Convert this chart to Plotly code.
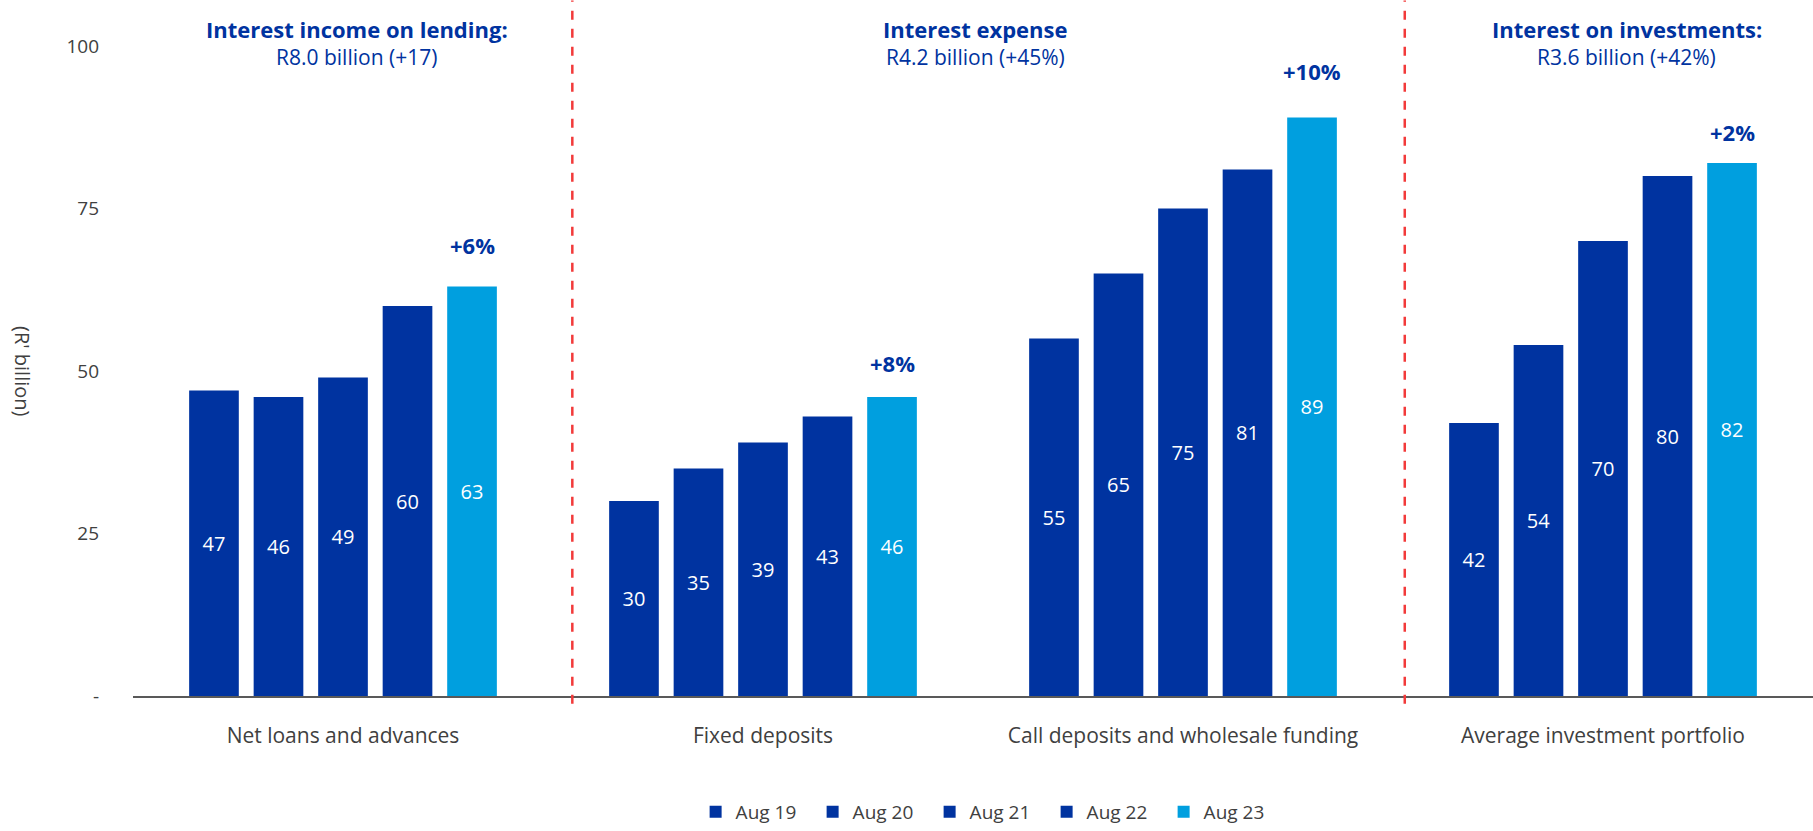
import plotly.graph_objects as go

# Balance categories on the x-axis
categories = [
    "Net loans and advances",
    "Fixed deposits",
    "Call deposits and wholesale funding",
    "Average investment portfolio",
]

# Year-end balances (R' billion) per period
periods = ["Aug 19", "Aug 20", "Aug 21", "Aug 22", "Aug 23"]
aug19 = [47, 30, 55, 42]
aug20 = [46, 35, 65, 54]
aug21 = [49, 39, 75, 70]
aug22 = [60, 43, 81, 80]
aug23 = [63, 46, 89, 82]

# Year-on-year growth shown above the latest bar
growth_labels = ["+6%", "+8%", "+10%", "+2%"]

# Section headers
header_titles = ["Interest income on lending:", "Interest expense", "Interest on investments:"]
header_values = ["R8.0 billion (+17)", "R4.2 billion (+45%)", "R3.6 billion (+42%)"]

y_ticks = [0, 25, 50, 75, 100]
y_tick_text = ["-", "25", "50", "75", "100"]

DARK = "#0033A0"
LIGHT = "#009FDF"
TEXT = "#404040"
FONT = "Open Sans"

series = [aug19, aug20, aug21, aug22, aug23]
colors = [DARK, DARK, DARK, DARK, LIGHT]

fig = go.Figure()
for name, vals, col in zip(periods, series, colors):
    fig.add_trace(go.Bar(
        name=name,
        x=categories,
        y=vals,
        marker=dict(color=col, line=dict(width=0)),
        text=[str(v) for v in vals],
        textposition="inside",
        insidetextanchor="middle",
        textangle=0,
        constraintext="none",
        textfont=dict(color="white", size=20, family=FONT),
        hoverinfo="skip",
    ))

annotations = []

# Growth labels above the Aug 23 bars
label_shift = [42, 34, 47, 31]
slot = 0.768 / 5
for i, (lab, v) in enumerate(zip(growth_labels, aug23)):
    annotations.append(dict(
        x=i + 2 * slot, xref="x", y=v, yref="y",
        text=f"<b>{lab}</b>", showarrow=False,
        yshift=label_shift[i], yanchor="middle",
        font=dict(size=22, color=DARK, family=FONT),
    ))

# Section headers
header_x = [0.033, 1.506, 3.056]
for hx, t, v in zip(header_x, header_titles, header_values):
    annotations.append(dict(
        x=hx, xref="x", y=1.0, yref="paper",
        text=f"<b>{t}</b>", showarrow=False, yanchor="middle", yshift=17,
        font=dict(size=22, color=DARK, family=FONT),
    ))
    annotations.append(dict(
        x=hx, xref="x", y=1.0, yref="paper",
        text=v, showarrow=False, yanchor="middle", yshift=-11,
        font=dict(size=21, color=DARK, family=FONT),
    ))

plot_left = 133
plot_width = 1813 - plot_left

# Vertical axis title, reading top to bottom
annotations.append(dict(
    x=(23 - plot_left) / plot_width, xref="paper", xanchor="center",
    y=0.5, yref="paper",
    text="(R' billion)", showarrow=False, textangle=90,
    font=dict(size=20, color=TEXT, family=FONT),
))

# Dashed separators between the three sections
shapes = []
for sx in [0.546, 2.528]:
    shapes.append(dict(
        type="line", xref="x", yref="paper",
        x0=sx, x1=sx, y0=-0.012, y1=1.07,
        line=dict(color="#F23A3A", width=2.5, dash="dash"),
    ))

fig.update_layout(
    width=1813, height=831,
    margin=dict(l=plot_left, r=0, t=46, b=131),
    paper_bgcolor="white", plot_bgcolor="white",
    barmode="group", bargap=0.232, bargroupgap=0.23,
    font=dict(family=FONT, color=TEXT, size=18),
    showlegend=True,
    legend=dict(
        orientation="h", x=0.509, xanchor="center", y=-0.179, yanchor="middle",
        font=dict(size=19, color=TEXT, family=FONT),
        entrywidth=72, entrywidthmode="pixels",
        itemclick=False, itemdoubleclick=False,
    ),
    annotations=annotations,
    shapes=shapes,
    xaxis=dict(
        range=[-0.5, 3.5], showgrid=False, zeroline=False,
        showline=True, linecolor="#595959", linewidth=2,
        ticks="", ticklabelstandoff=20,
        tickfont=dict(size=21, color=TEXT, family=FONT),
    ),
    yaxis=dict(
        range=[0, 100], showgrid=False, zeroline=False, showline=False,
        tickvals=y_ticks, ticktext=y_tick_text,
        ticks="", ticklabelstandoff=33,
        tickfont=dict(size=19, color=TEXT, family=FONT),
    ),
)

fig.write_html("out.html")
